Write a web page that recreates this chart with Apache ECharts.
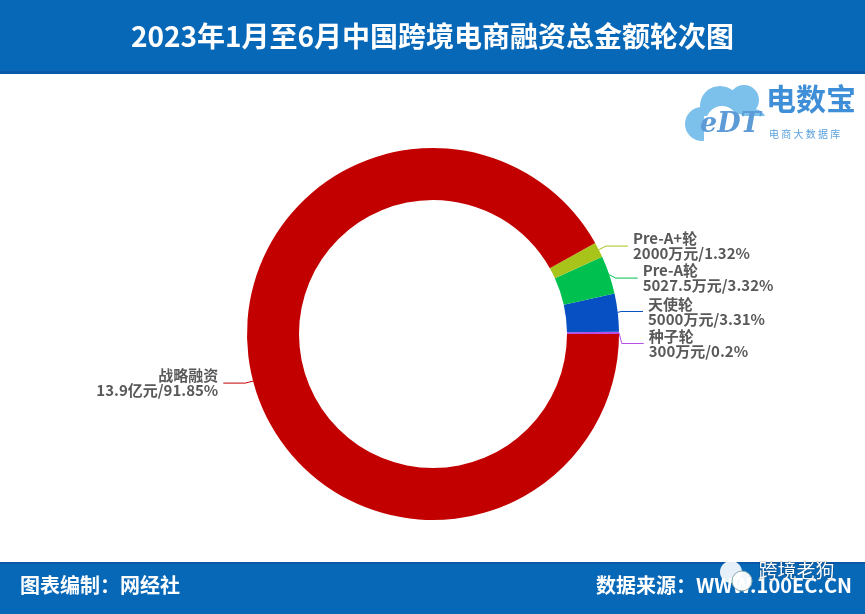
<!DOCTYPE html>
<html>
<head>
<meta charset="utf-8">
<script src="https://cdn.jsdelivr.net/npm/echarts@6/dist/echarts.min.js"></script>
<style>
html,body{margin:0;padding:0;background:#fff;}
#chart{width:865px;height:614px;}
</style>
</head>
<body>
<div id="chart"></div>
<script>
const categories = ['种子轮', '天使轮', 'Pre-A轮', 'Pre-A+轮', '战略融资'];
const values = [300, 5000, 5027.5, 2000, 139000];
const amountLabels = ['300万元', '5000万元', '5027.5万元', '2000万元', '13.9亿元'];
const percentLabels = ['0.2%', '3.31%', '3.32%', '1.32%', '91.85%'];
const colors = ['#b84ee6', '#0650c4', '#00c04f', '#a8c41a', '#c30000'];

const chart = echarts.init(document.getElementById('chart'));
const FONT = '"Noto Sans CJK SC", "Noto Sans", sans-serif';

chart.setOption({
  backgroundColor: '#ffffff',
  animation: false,
  graphic: [
    { type: 'rect', shape: { x: 0, y: 0, width: 865, height: 73 }, style: { fill: '#0868b8' }, z: 0 },
    { type: 'rect', shape: { x: 0, y: 71, width: 865, height: 3 }, style: { fill: '#0a58a8' }, z: 0 },
    { type: 'rect', shape: { x: 0, y: 563, width: 865, height: 51 }, style: { fill: '#0868b8' }, z: 0 },
    { type: 'rect', shape: { x: 0, y: 562, width: 865, height: 2 }, style: { fill: '#0a58a8' }, z: 0 },
    { type: 'text', left: 20, top: 575, style: { text: '图表编制：网经社', fill: '#ffffff', font: 'bold 20px ' + FONT }, z: 5 },
    { type: 'text', right: 13, top: 575, style: { text: '数据来源：WWW.100EC.CN', fill: '#ffffff', font: 'bold 20px ' + FONT }, z: 5 },
    // watermark
    { type: 'circle', shape: { cx: 731, cy: 572, r: 11 }, style: { fill: 'rgba(255,255,255,0.9)' }, z: 6 },
    { type: 'circle', shape: { cx: 742, cy: 581, r: 10 }, style: { fill: 'rgba(255,255,255,0.95)', stroke: '#8aa', lineWidth: 1 }, z: 6 },
    { type: 'text', left: 758, top: 561, style: { text: '跨境老狗', fill: '#ffffff', font: '19px ' + FONT, stroke: 'rgba(0,0,0,0.25)', lineWidth: 1 }, z: 7 },
    // logo
    { type: 'circle', shape: { cx: 720, cy: 106, r: 20 }, style: { fill: '#7cc0ec' }, z: 2 },
    { type: 'circle', shape: { cx: 744, cy: 100, r: 15 }, style: { fill: '#7cc0ec' }, z: 2 },
    { type: 'circle', shape: { cx: 702, cy: 124, r: 17 }, style: { fill: '#7cc0ec' }, z: 2 },
    { type: 'circle', shape: { cx: 754, cy: 121, r: 12 }, style: { fill: '#7cc0ec' }, z: 2 },
    { type: 'circle', shape: { cx: 722, cy: 122, r: 16 }, style: { fill: '#ffffff' }, z: 3 },
    { type: 'rect', shape: { x: 704, y: 116, width: 62, height: 30 }, style: { fill: '#ffffff' }, z: 3 },
    { type: 'text', left: 700, top: 111, style: { text: 'eDT', fill: '#5c9bd6', font: 'italic bold 27px "DejaVu Serif", serif' }, z: 4 },
    { type: 'text', left: 766, top: 84, style: { text: '电数宝', fill: '#3f8fd8', font: 'bold 30px ' + FONT }, z: 4 },
    { type: 'text', left: 769, top: 129, style: { text: '电 商 大 数 据 库', fill: '#5aa0dc', font: '10px ' + FONT }, z: 4 }
  ],
  title: {
    text: '2023年1月至6月中国跨境电商融资总金额轮次图',
    left: 'center',
    top: 17,
    textStyle: { color: '#ffffff', fontSize: 28, fontWeight: 'bold', fontFamily: FONT }
  },
  series: [{
    type: 'pie',
    center: [433, 334],
    radius: [134, 186],
    startAngle: 0,
    clockwise: false,
    avoidLabelOverlap: true,
    data: categories.map((c, i) => ({
      name: c,
      value: values[i],
      itemStyle: { color: colors[i] },
      labelLine: { lineStyle: { color: colors[i] } }
    })),
    label: {
      show: true,
      formatter: p => categories[p.dataIndex] + '\n' + amountLabels[p.dataIndex] + '/' + percentLabels[p.dataIndex],
      color: '#595959',
      fontSize: 15,
      fontWeight: 'bold',
      fontFamily: FONT,
      lineHeight: 15
    },
    labelLine: { show: true, length: 8, length2: 22, smooth: false, lineStyle: { width: 1 } },
    emphasis: { disabled: true }
  }]
});
</script>
</body>
</html>
